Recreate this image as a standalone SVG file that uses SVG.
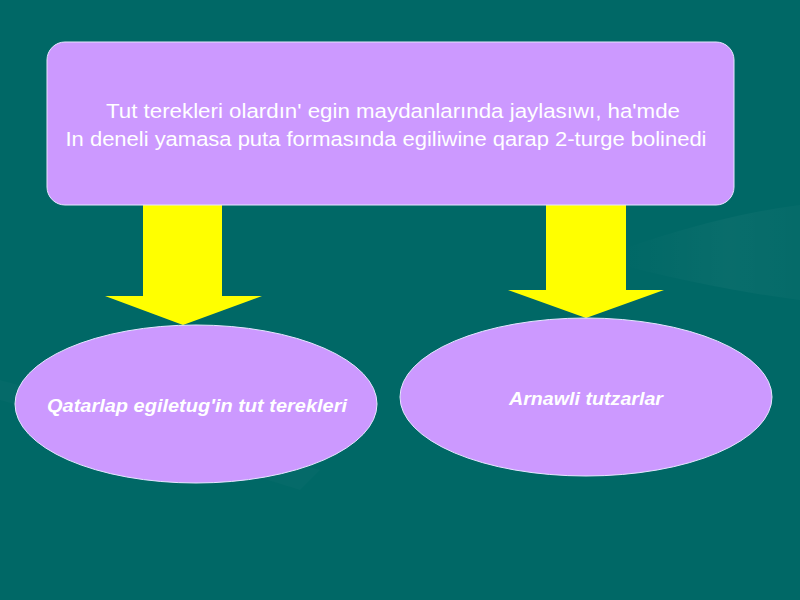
<svg xmlns="http://www.w3.org/2000/svg" width="800" height="600" viewBox="0 0 800 600">
  <defs>
    <style>
      .box { fill: #CC99FF; stroke: #E6E6FF; stroke-width: 1; }
      .arrow { fill: #FFFF00; stroke: none; }
      .t { fill: #FFFFFF; font-family: "Liberation Sans", Arial, sans-serif; text-anchor: middle; }
      .main { font-size: 20px; }
      .sub { font-size: 18px; font-weight: bold; font-style: italic; }
    </style>
    <linearGradient id="streak" x1="0" y1="0" x2="1" y2="0">
      <stop offset="0" stop-color="#FFFFFF" stop-opacity="0"/>
      <stop offset="0.6" stop-color="#FFFFFF" stop-opacity="0.035"/>
      <stop offset="1" stop-color="#FFFFFF" stop-opacity="0.02"/>
    </linearGradient>
  </defs>
  <rect x="0" y="0" width="800" height="600" fill="#006866"/>
  <path d="M620 250 Q720 215 800 205 L800 300 Q720 290 620 265 Z" fill="url(#streak)"/>
  <path d="M0 380 Q150 420 320 470 L300 490 Q140 440 0 400 Z" fill="#FFFFFF" opacity="0.02"/>

  <g id="connectors">
    <polygon class="arrow" points="143,205 222,205 222,296 262,296 183,325 105,296 143,296"/>
    <polygon class="arrow" points="546,205 626,205 626,290 664,290 586,318 508,290 546,290"/>
  </g>

  <g id="node-top">
    <rect class="box" x="47" y="42" width="687" height="163" rx="18" ry="18"/>
    <text class="t main" x="393" y="118" textLength="574" lengthAdjust="spacingAndGlyphs">Tut terekleri olardın' egin maydanlarında jaylasıwı, ha'mde</text>
    <text class="t main" x="386" y="146" textLength="641" lengthAdjust="spacingAndGlyphs">In deneli yamasa puta formasında egiliwine qarap 2-turge bolinedi</text>
  </g>

  <g id="node-left">
    <ellipse class="box" cx="196" cy="404" rx="181" ry="79"/>
    <text class="t sub" x="197" y="412" textLength="300" lengthAdjust="spacingAndGlyphs">Qatarlap egiletug'in tut terekleri</text>
  </g>

  <g id="node-right">
    <ellipse class="box" cx="586" cy="397" rx="186" ry="79"/>
    <text class="t sub" x="586" y="405" textLength="154" lengthAdjust="spacingAndGlyphs">Arnawli tutzarlar</text>
  </g>
</svg>
